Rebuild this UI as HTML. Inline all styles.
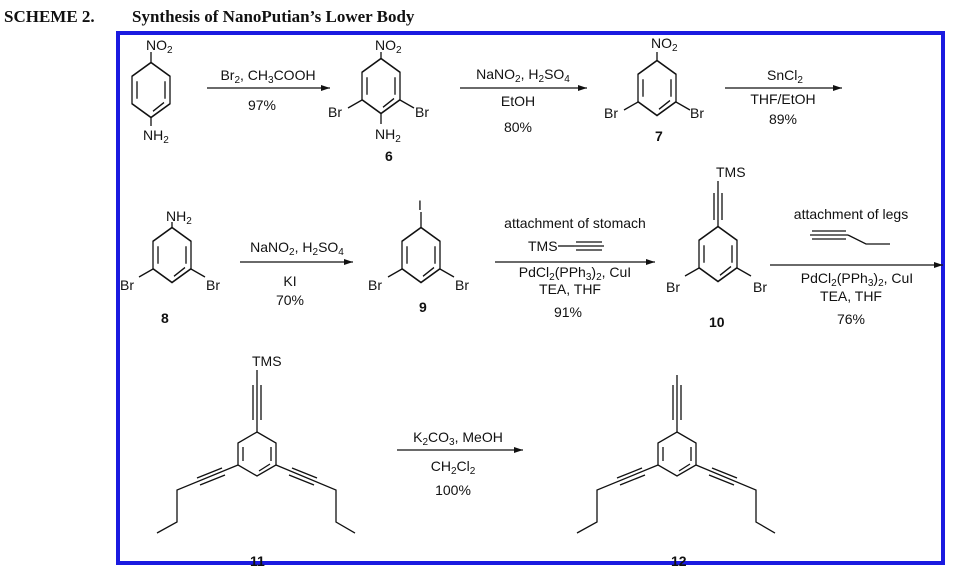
<!DOCTYPE html>
<html><head><meta charset="utf-8"><style>
html,body{margin:0;padding:0;background:#fff;}
svg{display:block}
text{font-family:"Liberation Sans",Arial,sans-serif;font-size:14px;fill:#111}
.t{font-family:"Liberation Serif",serif;font-weight:bold;font-size:17px}
.b{font-weight:bold}
line,path,polyline{stroke:#111;stroke-width:1.3;fill:none}
</style></head><body>
<svg width="973" height="580" viewBox="0 0 973 580">
<defs>
<g id="ring">
<path d="M0,-22 L19,-11 L19,11 L0,22 L-19,11 L-19,-11 Z"/>
<line x1="14" y1="-7" x2="14" y2="7"/>
<line x1="-14" y1="-7" x2="-14" y2="7"/>
<line x1="2" y1="17" x2="13" y2="10"/>
</g>
<g id="ringT" transform="scale(1,1.25)"><use href="#ring"/></g>
<marker id="ah" markerWidth="10" markerHeight="8" refX="9" refY="4" orient="auto" markerUnits="userSpaceOnUse"><path d="M0,1 L9,4 L0,7 Z" style="fill:#111;stroke:none"/></marker>
</defs>
<text x="4" y="22" class="t">SCHEME 2.</text>
<text x="132" y="22" class="t">Synthesis of NanoPutian’s Lower Body</text>
<rect x="118" y="33" width="825" height="530" style="fill:none;stroke:#1a1ae0;stroke-width:4"/>

<!-- 1 -->
<use href="#ringT" x="151" y="90"/>
<line x1="151" y1="62" x2="151" y2="52"/>
<line x1="151" y1="118" x2="151" y2="126"/>
<text x="146" y="50">NO<tspan font-size="10" dy="3">2</tspan></text>
<text x="143" y="140">NH<tspan font-size="10" dy="3">2</tspan></text>
<line x1="207" y1="88" x2="330" y2="88" marker-end="url(#ah)"/>
<text x="268" y="80" text-anchor="middle">Br<tspan font-size="10" dy="3">2</tspan><tspan dy="-3">, CH</tspan><tspan font-size="10" dy="3">3</tspan><tspan dy="-3">COOH</tspan></text>
<text x="262" y="110" text-anchor="middle">97%</text>

<!-- 6 -->
<use href="#ringT" x="381" y="86"/>
<line x1="381" y1="58" x2="381" y2="52"/>
<line x1="381" y1="114" x2="381" y2="124"/>
<line x1="362" y1="100" x2="348" y2="108"/>
<line x1="400" y1="100" x2="414" y2="108"/>
<text x="375" y="50">NO<tspan font-size="10" dy="3">2</tspan></text>
<text x="328" y="117">Br</text>
<text x="415" y="117">Br</text>
<text x="375" y="139">NH<tspan font-size="10" dy="3">2</tspan></text>
<text x="385" y="161" class="b">6</text>
<line x1="460" y1="88" x2="587" y2="88" marker-end="url(#ah)"/>
<text x="523" y="79" text-anchor="middle">NaNO<tspan font-size="10" dy="3">2</tspan><tspan dy="-3">, H</tspan><tspan font-size="10" dy="3">2</tspan><tspan dy="-3">SO</tspan><tspan font-size="10" dy="3">4</tspan></text>
<text x="518" y="106" text-anchor="middle">EtOH</text>
<text x="518" y="132" text-anchor="middle">80%</text>

<!-- 7 -->
<use href="#ringT" x="657" y="88"/>
<line x1="657" y1="60" x2="657" y2="52"/>
<line x1="638" y1="102" x2="624" y2="110"/>
<line x1="676" y1="102" x2="690" y2="110"/>
<text x="651" y="48">NO<tspan font-size="10" dy="3">2</tspan></text>
<text x="604" y="118">Br</text>
<text x="690" y="118">Br</text>
<text x="655" y="141" class="b">7</text>
<line x1="725" y1="88" x2="842" y2="88" marker-end="url(#ah)"/>
<text x="785" y="80" text-anchor="middle">SnCl<tspan font-size="10" dy="3">2</tspan></text>
<text x="783" y="104" text-anchor="middle">THF/EtOH</text>
<text x="783" y="124" text-anchor="middle">89%</text>

<!-- 8 -->
<use href="#ringT" x="172" y="255"/>
<line x1="172" y1="227" x2="172" y2="222"/>
<line x1="153" y1="269" x2="139" y2="277"/>
<line x1="191" y1="269" x2="205" y2="277"/>
<text x="166" y="221">NH<tspan font-size="10" dy="3">2</tspan></text>
<text x="120" y="290">Br</text>
<text x="206" y="290">Br</text>
<text x="161" y="323" class="b">8</text>
<line x1="240" y1="262" x2="353" y2="262" marker-end="url(#ah)"/>
<text x="297" y="252" text-anchor="middle">NaNO<tspan font-size="10" dy="3">2</tspan><tspan dy="-3">, H</tspan><tspan font-size="10" dy="3">2</tspan><tspan dy="-3">SO</tspan><tspan font-size="10" dy="3">4</tspan></text>
<text x="290" y="286" text-anchor="middle">KI</text>
<text x="290" y="305" text-anchor="middle">70%</text>

<!-- 9 -->
<use href="#ringT" x="421" y="255"/>
<line x1="421" y1="227" x2="421" y2="212"/>
<line x1="402" y1="269" x2="388" y2="277"/>
<line x1="440" y1="269" x2="454" y2="277"/>
<text x="418" y="210">I</text>
<text x="368" y="290">Br</text>
<text x="455" y="290">Br</text>
<text x="419" y="312" class="b">9</text>
<line x1="495" y1="262" x2="655" y2="262" marker-end="url(#ah)"/>
<text x="575" y="228" text-anchor="middle">attachment of stomach</text>
<text x="528" y="251">TMS</text>
<line x1="558" y1="246" x2="574" y2="246"/>
<line x1="574" y1="246" x2="604" y2="246"/><line x1="576" y1="242" x2="602" y2="242"/><line x1="576" y1="250" x2="602" y2="250"/>
<text x="575" y="277" text-anchor="middle">PdCl<tspan font-size="10" dy="3">2</tspan><tspan dy="-3">(PPh</tspan><tspan font-size="10" dy="3">3</tspan><tspan dy="-3">)</tspan><tspan font-size="10" dy="3">2</tspan><tspan dy="-3">, CuI</tspan></text>
<text x="570" y="294" text-anchor="middle">TEA, THF</text>
<text x="568" y="317" text-anchor="middle">91%</text>

<!-- 10 -->
<use href="#ringT" x="718" y="254"/>
<line x1="718" y1="226" x2="718" y2="181"/>
<line x1="714" y1="220" x2="714" y2="193"/><line x1="722" y1="220" x2="722" y2="193"/>
<line x1="699" y1="268" x2="685" y2="276"/>
<line x1="737" y1="268" x2="751" y2="276"/>
<text x="716" y="177">TMS</text>
<text x="666" y="292">Br</text>
<text x="753" y="292">Br</text>
<text x="709" y="327" class="b">10</text>
<line x1="770" y1="265" x2="943" y2="265" marker-end="url(#ah)"/>
<text x="851" y="219" text-anchor="middle">attachment of legs</text>
<line x1="810" y1="235" x2="848" y2="235"/><line x1="812" y1="231" x2="846" y2="231"/><line x1="812" y1="239" x2="846" y2="239"/>
<polyline points="848,235 866,244 890,244"/>
<text x="857" y="283" text-anchor="middle">PdCl<tspan font-size="10" dy="3">2</tspan><tspan dy="-3">(PPh</tspan><tspan font-size="10" dy="3">3</tspan><tspan dy="-3">)</tspan><tspan font-size="10" dy="3">2</tspan><tspan dy="-3">, CuI</tspan></text>
<text x="851" y="301" text-anchor="middle">TEA, THF</text>
<text x="851" y="324" text-anchor="middle">76%</text>

<!-- 11 -->
<use href="#ring" x="257" y="454"/>
<line x1="257" y1="432" x2="257" y2="370"/>
<line x1="253" y1="420" x2="253" y2="385"/><line x1="261" y1="420" x2="261" y2="385"/>
<text x="252" y="366">TMS</text>
<polyline points="238,465 177,490 177,522 157,533"/>
<line x1="222" y1="468" x2="197" y2="478"/><line x1="225" y1="475" x2="200" y2="485"/>
<polyline points="276,465 336,490 336,522 355,533"/>
<line x1="292" y1="468" x2="317" y2="478"/><line x1="289" y1="475" x2="314" y2="485"/>
<text x="250" y="566" class="b">11</text>
<line x1="397" y1="450" x2="523" y2="450" marker-end="url(#ah)"/>
<text x="458" y="442" text-anchor="middle">K<tspan font-size="10" dy="3">2</tspan><tspan dy="-3">CO</tspan><tspan font-size="10" dy="3">3</tspan><tspan dy="-3">, MeOH</tspan></text>
<text x="453" y="471" text-anchor="middle">CH<tspan font-size="10" dy="3">2</tspan><tspan dy="-3">Cl</tspan><tspan font-size="10" dy="3">2</tspan></text>
<text x="453" y="495" text-anchor="middle">100%</text>

<!-- 12 -->
<use href="#ring" x="677" y="454"/>
<line x1="677" y1="432" x2="677" y2="375"/>
<line x1="673" y1="420" x2="673" y2="385"/><line x1="681" y1="420" x2="681" y2="385"/>
<polyline points="658,465 597,490 597,522 577,533"/>
<line x1="642" y1="468" x2="617" y2="478"/><line x1="645" y1="475" x2="620" y2="485"/>
<polyline points="696,465 756,490 756,522 775,533"/>
<line x1="712" y1="468" x2="737" y2="478"/><line x1="709" y1="475" x2="734" y2="485"/>
<text x="671" y="566" class="b">12</text>
</svg>
</body></html>
